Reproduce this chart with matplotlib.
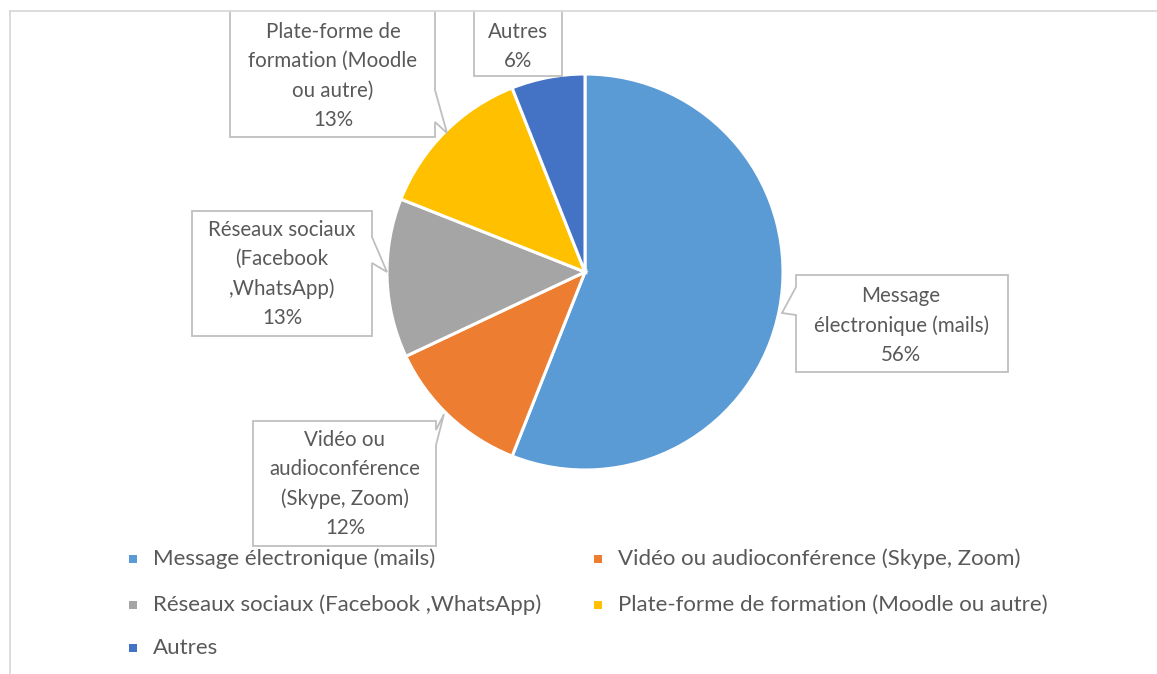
import matplotlib
matplotlib.use("Agg")
import matplotlib.pyplot as plt
from matplotlib.patches import Polygon, Rectangle

# ---- data ----
labels = ["Message électronique (mails)",
          "Vidéo ou audioconférence (Skype, Zoom)",
          "Réseaux sociaux (Facebook ,WhatsApp)",
          "Plate-forme de formation (Moodle ou autre)",
          "Autres"]
values = [56, 12, 13, 13, 6]
colors = ["#5B9BD5", "#ED7D31", "#A5A5A5", "#FFC000", "#4472C4"]
callout_text = ["Message\nélectronique (mails)",
                "Vidéo ou\naudioconférence\n(Skype, Zoom)",
                "Réseaux sociaux\n(Facebook\n,WhatsApp)",
                "Plate-forme de\nformation (Moodle\nou autre)",
                "Autres"]

W, H = 1157, 674
FONT = "Lato"
TXT = "#595959"
EDGE = "#BFBFBF"

fig = plt.figure(figsize=(W / 100, H / 100), dpi=100)
ax = fig.add_axes([0, 0, 1, 1])


def Y(y):
    return H - y


# pie
ax.pie(values, colors=colors, startangle=90, counterclock=False,
       center=(585, Y(272)), radius=198,
       wedgeprops=dict(edgecolor="white", linewidth=2.2), frame=True)
ax.set_xlim(0, W)
ax.set_ylim(0, H)
ax.set_aspect("equal")
ax.axis("off")

# callout boxes: polygon outlines in pixel coordinates (top-left origin)
boxes = [
    ([(796, 275), (1008, 275), (1008, 372), (796, 372), (796, 315), (782, 313), (796, 287)],
     901),
    ([(253, 421), (436, 421), (436, 430), (444, 414), (436, 445), (436, 546), (253, 546)],
     345),
    ([(192, 211), (372, 211), (372, 237), (387, 272), (372, 263), (372, 336), (192, 336)],
     282),
    ([(230, 8), (435, 8), (435, 90), (447, 133), (435, 122), (435, 137), (230, 137)],
     333),
    ([(474, 8), (562, 8), (562, 76), (474, 76)],
     518),
]
text_top = [296, 440, 230, 32, 32]
pcts = [f"{v}%" for v in values]
for (pts, cx), t, ty, pct in zip(boxes, callout_text, text_top, pcts):
    poly = Polygon([(x, Y(y)) for x, y in pts], closed=True, facecolor="white",
                   edgecolor=EDGE, lw=1.3, zorder=3, joinstyle="miter")
    ax.add_patch(poly)
    lines = t.split("\n") + [pct]
    for i, ln in enumerate(lines):
        ax.text(cx, Y(ty + i * 29.3), ln, ha="center", va="center",
                fontsize=14.8, color=TXT, family=FONT, zorder=4)

# outer frame (left + top), drawn over clipped boxes
ax.add_patch(Rectangle((0, Y(11)), W, 20, facecolor="white", edgecolor="none", zorder=5))
ax.plot([10, W + 5], [Y(11), Y(11)], color="#D9D9D9", lw=1.3, zorder=6)
ax.plot([10, 10], [Y(H + 5), Y(11)], color="#D9D9D9", lw=1.3, zorder=6)

# legend
leg_pos = [(133, 559), (598, 559), (133, 605), (598, 605), (133, 648)]
for (lx, ly), lab, col in zip(leg_pos, labels, colors):
    ax.add_patch(Rectangle((lx - 4, Y(ly) - 4), 8, 8, facecolor=col,
                           edgecolor="none", zorder=4))
    ax.text(lx + 20, Y(ly), lab, ha="left", va="center", fontsize=16,
            color=TXT, family=FONT, zorder=4)

fig.savefig("out.png", dpi=100)
